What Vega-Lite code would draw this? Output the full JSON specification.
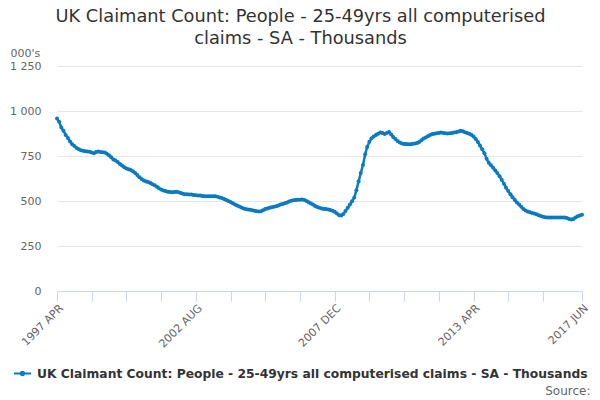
{
  "$schema": "https://vega.github.io/schema/vega-lite/v6.json",
  "autosize": {"type": "none"},
  "width": 525,
  "height": 225,
  "padding": {"left": 57, "top": 66, "right": 18, "bottom": 109},
  "background": "white",
  "config": {
    "font": "DejaVu Sans",
    "view": {"stroke": null}
  },
  "title": {
    "text": ["UK Claimant Count: People - 25-49yrs all computerised", "claims - SA - Thousands"],
    "font": "DejaVu Sans",
    "fontSize": 17.8,
    "fontWeight": "normal",
    "color": "#333333",
    "anchor": "middle",
    "frame": "group",
    "dx": -19,
    "offset": -1,
    "lineHeight": 22
  },
  "data": {
    "values": [
      {"month": "1997-04-01", "value": 959}, {"month": "1997-05-01", "value": 940}, {"month": "1997-06-01", "value": 908},
      {"month": "1997-07-01", "value": 890}, {"month": "1997-08-01", "value": 866}, {"month": "1997-09-01", "value": 850},
      {"month": "1997-10-01", "value": 830}, {"month": "1997-11-01", "value": 815}, {"month": "1997-12-01", "value": 806},
      {"month": "1998-01-01", "value": 795}, {"month": "1998-02-01", "value": 787}, {"month": "1998-03-01", "value": 782},
      {"month": "1998-04-01", "value": 779}, {"month": "1998-05-01", "value": 777}, {"month": "1998-06-01", "value": 775},
      {"month": "1998-07-01", "value": 773}, {"month": "1998-08-01", "value": 770}, {"month": "1998-09-01", "value": 765},
      {"month": "1998-10-01", "value": 772}, {"month": "1998-11-01", "value": 775}, {"month": "1998-12-01", "value": 772},
      {"month": "1999-01-01", "value": 771}, {"month": "1999-02-01", "value": 770}, {"month": "1999-03-01", "value": 763},
      {"month": "1999-04-01", "value": 754}, {"month": "1999-05-01", "value": 743}, {"month": "1999-06-01", "value": 731},
      {"month": "1999-07-01", "value": 725}, {"month": "1999-08-01", "value": 716}, {"month": "1999-09-01", "value": 706},
      {"month": "1999-10-01", "value": 697}, {"month": "1999-11-01", "value": 688}, {"month": "1999-12-01", "value": 681},
      {"month": "2000-01-01", "value": 677}, {"month": "2000-02-01", "value": 672}, {"month": "2000-03-01", "value": 665},
      {"month": "2000-04-01", "value": 655}, {"month": "2000-05-01", "value": 645}, {"month": "2000-06-01", "value": 632},
      {"month": "2000-07-01", "value": 622}, {"month": "2000-08-01", "value": 614}, {"month": "2000-09-01", "value": 609},
      {"month": "2000-10-01", "value": 605}, {"month": "2000-11-01", "value": 600}, {"month": "2000-12-01", "value": 593},
      {"month": "2001-01-01", "value": 587}, {"month": "2001-02-01", "value": 579}, {"month": "2001-03-01", "value": 571},
      {"month": "2001-04-01", "value": 564}, {"month": "2001-05-01", "value": 559}, {"month": "2001-06-01", "value": 555},
      {"month": "2001-07-01", "value": 552}, {"month": "2001-08-01", "value": 550}, {"month": "2001-09-01", "value": 549},
      {"month": "2001-10-01", "value": 550}, {"month": "2001-11-01", "value": 551}, {"month": "2001-12-01", "value": 549},
      {"month": "2002-01-01", "value": 545}, {"month": "2002-02-01", "value": 540}, {"month": "2002-03-01", "value": 537},
      {"month": "2002-04-01", "value": 537}, {"month": "2002-05-01", "value": 536}, {"month": "2002-06-01", "value": 536},
      {"month": "2002-07-01", "value": 534}, {"month": "2002-08-01", "value": 532}, {"month": "2002-09-01", "value": 531},
      {"month": "2002-10-01", "value": 530}, {"month": "2002-11-01", "value": 528}, {"month": "2002-12-01", "value": 527},
      {"month": "2003-01-01", "value": 527}, {"month": "2003-02-01", "value": 527}, {"month": "2003-03-01", "value": 526},
      {"month": "2003-04-01", "value": 527}, {"month": "2003-05-01", "value": 527}, {"month": "2003-06-01", "value": 524},
      {"month": "2003-07-01", "value": 520}, {"month": "2003-08-01", "value": 516}, {"month": "2003-09-01", "value": 511},
      {"month": "2003-10-01", "value": 505}, {"month": "2003-11-01", "value": 500}, {"month": "2003-12-01", "value": 494},
      {"month": "2004-01-01", "value": 488}, {"month": "2004-02-01", "value": 481}, {"month": "2004-03-01", "value": 475},
      {"month": "2004-04-01", "value": 470}, {"month": "2004-05-01", "value": 464}, {"month": "2004-06-01", "value": 459},
      {"month": "2004-07-01", "value": 456}, {"month": "2004-08-01", "value": 453}, {"month": "2004-09-01", "value": 451},
      {"month": "2004-10-01", "value": 449}, {"month": "2004-11-01", "value": 446}, {"month": "2004-12-01", "value": 443},
      {"month": "2005-01-01", "value": 441}, {"month": "2005-02-01", "value": 443}, {"month": "2005-03-01", "value": 448},
      {"month": "2005-04-01", "value": 455}, {"month": "2005-05-01", "value": 459}, {"month": "2005-06-01", "value": 462},
      {"month": "2005-07-01", "value": 465}, {"month": "2005-08-01", "value": 468}, {"month": "2005-09-01", "value": 471},
      {"month": "2005-10-01", "value": 475}, {"month": "2005-11-01", "value": 480}, {"month": "2005-12-01", "value": 484},
      {"month": "2006-01-01", "value": 488}, {"month": "2006-02-01", "value": 492}, {"month": "2006-03-01", "value": 497},
      {"month": "2006-04-01", "value": 501}, {"month": "2006-05-01", "value": 504}, {"month": "2006-06-01", "value": 506},
      {"month": "2006-07-01", "value": 507}, {"month": "2006-08-01", "value": 507}, {"month": "2006-09-01", "value": 508},
      {"month": "2006-10-01", "value": 506}, {"month": "2006-11-01", "value": 500}, {"month": "2006-12-01", "value": 493},
      {"month": "2007-01-01", "value": 486}, {"month": "2007-02-01", "value": 480}, {"month": "2007-03-01", "value": 472},
      {"month": "2007-04-01", "value": 466}, {"month": "2007-05-01", "value": 462}, {"month": "2007-06-01", "value": 458},
      {"month": "2007-07-01", "value": 456}, {"month": "2007-08-01", "value": 455}, {"month": "2007-09-01", "value": 453},
      {"month": "2007-10-01", "value": 450}, {"month": "2007-11-01", "value": 446}, {"month": "2007-12-01", "value": 440},
      {"month": "2008-01-01", "value": 430}, {"month": "2008-02-01", "value": 421}, {"month": "2008-03-01", "value": 420},
      {"month": "2008-04-01", "value": 428}, {"month": "2008-05-01", "value": 445}, {"month": "2008-06-01", "value": 462},
      {"month": "2008-07-01", "value": 480}, {"month": "2008-08-01", "value": 499}, {"month": "2008-09-01", "value": 520},
      {"month": "2008-10-01", "value": 560}, {"month": "2008-11-01", "value": 610}, {"month": "2008-12-01", "value": 655},
      {"month": "2009-01-01", "value": 700}, {"month": "2009-02-01", "value": 760}, {"month": "2009-03-01", "value": 800},
      {"month": "2009-04-01", "value": 829}, {"month": "2009-05-01", "value": 848}, {"month": "2009-06-01", "value": 858},
      {"month": "2009-07-01", "value": 866}, {"month": "2009-08-01", "value": 874}, {"month": "2009-09-01", "value": 880},
      {"month": "2009-10-01", "value": 878}, {"month": "2009-11-01", "value": 872}, {"month": "2009-12-01", "value": 878},
      {"month": "2010-01-01", "value": 884}, {"month": "2010-02-01", "value": 870}, {"month": "2010-03-01", "value": 855},
      {"month": "2010-04-01", "value": 845}, {"month": "2010-05-01", "value": 833}, {"month": "2010-06-01", "value": 825},
      {"month": "2010-07-01", "value": 820}, {"month": "2010-08-01", "value": 817}, {"month": "2010-09-01", "value": 816},
      {"month": "2010-10-01", "value": 815}, {"month": "2010-11-01", "value": 815}, {"month": "2010-12-01", "value": 818},
      {"month": "2011-01-01", "value": 820}, {"month": "2011-02-01", "value": 822}, {"month": "2011-03-01", "value": 828},
      {"month": "2011-04-01", "value": 838}, {"month": "2011-05-01", "value": 847}, {"month": "2011-06-01", "value": 853},
      {"month": "2011-07-01", "value": 860}, {"month": "2011-08-01", "value": 867}, {"month": "2011-09-01", "value": 872},
      {"month": "2011-10-01", "value": 874}, {"month": "2011-11-01", "value": 876}, {"month": "2011-12-01", "value": 878},
      {"month": "2012-01-01", "value": 880}, {"month": "2012-02-01", "value": 878}, {"month": "2012-03-01", "value": 876},
      {"month": "2012-04-01", "value": 875}, {"month": "2012-05-01", "value": 877}, {"month": "2012-06-01", "value": 878},
      {"month": "2012-07-01", "value": 880}, {"month": "2012-08-01", "value": 882}, {"month": "2012-09-01", "value": 886},
      {"month": "2012-10-01", "value": 890}, {"month": "2012-11-01", "value": 887}, {"month": "2012-12-01", "value": 882},
      {"month": "2013-01-01", "value": 878}, {"month": "2013-02-01", "value": 874}, {"month": "2013-03-01", "value": 868},
      {"month": "2013-04-01", "value": 858}, {"month": "2013-05-01", "value": 845}, {"month": "2013-06-01", "value": 828},
      {"month": "2013-07-01", "value": 808}, {"month": "2013-08-01", "value": 788}, {"month": "2013-09-01", "value": 765},
      {"month": "2013-10-01", "value": 735}, {"month": "2013-11-01", "value": 712}, {"month": "2013-12-01", "value": 698},
      {"month": "2014-01-01", "value": 685}, {"month": "2014-02-01", "value": 670}, {"month": "2014-03-01", "value": 655},
      {"month": "2014-04-01", "value": 638}, {"month": "2014-05-01", "value": 618}, {"month": "2014-06-01", "value": 596},
      {"month": "2014-07-01", "value": 574}, {"month": "2014-08-01", "value": 555}, {"month": "2014-09-01", "value": 537},
      {"month": "2014-10-01", "value": 521}, {"month": "2014-11-01", "value": 505}, {"month": "2014-12-01", "value": 492},
      {"month": "2015-01-01", "value": 480}, {"month": "2015-02-01", "value": 468}, {"month": "2015-03-01", "value": 456},
      {"month": "2015-04-01", "value": 447}, {"month": "2015-05-01", "value": 442}, {"month": "2015-06-01", "value": 438},
      {"month": "2015-07-01", "value": 434}, {"month": "2015-08-01", "value": 430}, {"month": "2015-09-01", "value": 426},
      {"month": "2015-10-01", "value": 421}, {"month": "2015-11-01", "value": 417}, {"month": "2015-12-01", "value": 413},
      {"month": "2016-01-01", "value": 410}, {"month": "2016-02-01", "value": 409}, {"month": "2016-03-01", "value": 408},
      {"month": "2016-04-01", "value": 409}, {"month": "2016-05-01", "value": 409}, {"month": "2016-06-01", "value": 409},
      {"month": "2016-07-01", "value": 408}, {"month": "2016-08-01", "value": 408}, {"month": "2016-09-01", "value": 408},
      {"month": "2016-10-01", "value": 408}, {"month": "2016-11-01", "value": 405}, {"month": "2016-12-01", "value": 400},
      {"month": "2017-01-01", "value": 397}, {"month": "2017-02-01", "value": 400}, {"month": "2017-03-01", "value": 408},
      {"month": "2017-04-01", "value": 415}, {"month": "2017-05-01", "value": 420}, {"month": "2017-06-01", "value": 423}
    ]
  },
  "mark": {
    "type": "line",
    "strokeWidth": 2.5,
    "point": {"filled": true, "size": 16}
  },
  "encoding": {
    "x": {
      "field": "month",
      "type": "temporal",
      "scale": {"type": "utc"},
      "axis": {
        "title": "Source:",
        "titleFont": "DejaVu Sans",
        "titleFontSize": 12,
        "titleFontWeight": "normal",
        "titleColor": "#666666",
        "titleAlign": "right",
        "titleAnchor": null,
        "titleX": 533,
        "titleY": 99,
        "titleBaseline": "middle",
        "values": [
          {"year": 1997, "month": 4, "date": 1, "utc": true},
          {"year": 1998, "month": 8, "date": 1, "utc": true},
          {"year": 1999, "month": 12, "date": 1, "utc": true},
          {"year": 2001, "month": 4, "date": 1, "utc": true},
          {"year": 2002, "month": 8, "date": 1, "utc": true},
          {"year": 2003, "month": 12, "date": 1, "utc": true},
          {"year": 2005, "month": 4, "date": 1, "utc": true},
          {"year": 2006, "month": 8, "date": 1, "utc": true},
          {"year": 2007, "month": 12, "date": 1, "utc": true},
          {"year": 2009, "month": 4, "date": 1, "utc": true},
          {"year": 2010, "month": 8, "date": 1, "utc": true},
          {"year": 2011, "month": 12, "date": 1, "utc": true},
          {"year": 2013, "month": 4, "date": 1, "utc": true},
          {"year": 2014, "month": 8, "date": 1, "utc": true},
          {"year": 2015, "month": 12, "date": 1, "utc": true},
          {"year": 2017, "month": 6, "date": 1, "utc": true}
        ],
        "labelExpr": "indexof(['1997 APR','2002 AUG','2007 DEC','2013 APR','2017 JUN'], upper(utcFormat(datum.value, '%Y %b'))) >= 0 ? upper(utcFormat(datum.value, '%Y %b')) : ''",
        "labelAngle": -45,
        "labelFontSize": 11,
        "labelColor": "#666666",
        "labelPadding": 1,
        "labelDx": -4,
        "labelOverlap": false,
        "labelBound": false,
        "labelFlush": false,
        "grid": false,
        "domainColor": "#ccd6eb",
        "tickColor": "#ccd6eb",
        "tickSize": 10
      }
    },
    "y": {
      "field": "value",
      "type": "quantitative",
      "scale": {"domain": [0, 1250], "nice": false},
      "axis": {
        "title": "000's",
        "titleFont": "DejaVu Sans",
        "titleFontSize": 11,
        "titleFontWeight": "normal",
        "titleColor": "#666666",
        "titleAngle": 0,
        "titleAlign": "left",
        "titleBaseline": "middle",
        "titleX": -47,
        "titleY": -13,
        "values": [0, 250, 500, 750, 1000, 1250],
        "labelExpr": "replace(format(datum.value, ','), ',', ' ')",
        "labelFontSize": 11,
        "labelColor": "#666666",
        "labelPadding": 16,
        "ticks": false,
        "tickSize": 0,
        "domain": false,
        "gridColor": "#e6e6e6"
      }
    },
    "color": {
      "datum": "UK Claimant Count: People - 25-49yrs all computerised claims - SA - Thousands",
      "type": "nominal",
      "scale": {"range": ["#0a7ac2"]},
      "legend": {
        "title": null,
        "orient": "none",
        "legendX": -44,
        "legendY": 298,
        "symbolType": "M-1,0H1M-0.2,0A0.2,0.2,0,1,0,0.2,0A0.2,0.2,0,1,0,-0.2,0Z",
        "symbolSize": 289,
        "symbolStrokeWidth": 2,
        "labelFont": "DejaVu Sans",
        "labelFontSize": 12.3,
        "labelFontWeight": "bold",
        "labelColor": "#333333",
        "labelLimit": 700,
        "labelOffset": 5,
        "encode": {
          "symbols": {"update": {"fill": {"value": "#0a7ac2"}, "stroke": {"value": "#0a7ac2"}}}
        }
      }
    }
  }
}
